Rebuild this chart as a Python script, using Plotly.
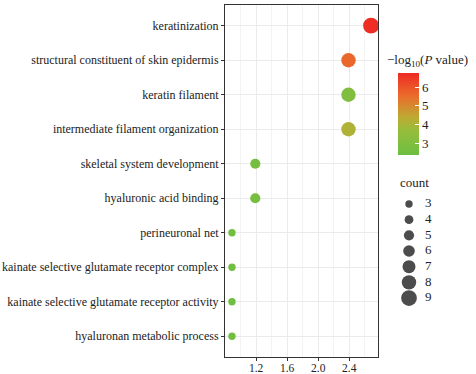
import plotly.graph_objects as go

terms = [
    "keratinization",
    "structural constituent of skin epidermis",
    "keratin filament",
    "intermediate filament organization",
    "skeletal system development",
    "hyaluronic acid binding",
    "perineuronal net",
    "kainate selective glutamate receptor complex",
    "kainate selective glutamate receptor activity",
    "hyaluronan metabolic process",
]
x_values = [2.68, 2.39, 2.39, 2.39, 1.19, 1.19, 0.89, 0.89, 0.89, 0.89]
neg_log_p = [6.7, 5.6, 3.0, 4.1, 2.7, 2.7, 2.5, 2.5, 2.5, 2.5]
counts = [9, 8, 8, 8, 5, 5, 3, 3, 3, 3]

legend_counts = [3, 4, 5, 6, 7, 8, 9]
x_ticks = [1.2, 1.6, 2.0, 2.4]
cbar_ticks = [3, 4, 5, 6]

FONT = "Liberation Serif, Times New Roman, serif"
W, H = 476, 374
ML, MR, MT, MB = 225, 4, 5, 17
PW = W - ML - MR
PH = H - MT - MB

def px_x(p):
    return (p - ML) / PW

def px_y(p):
    return (H - MB - p) / PH

def sz(c):
    return 3.2 + 1.4 * c

colorscale = [
    [0.0, "#6cbf42"],
    [0.3, "#97bd3b"],
    [0.45, "#bcac33"],
    [0.72, "#ea6c2b"],
    [1.0, "#ee2a24"],
]

fig = go.Figure()
fig.add_trace(go.Scatter(
    x=x_values, y=terms, mode="markers",
    marker=dict(
        size=[sz(c) for c in counts], opacity=1,
        color=neg_log_p, colorscale=colorscale, cmin=2.36, cmax=6.75,
        line=dict(width=0),
        colorbar=dict(
            x=px_x(398), xanchor="left", y=px_y(114), yanchor="middle",
            len=82, lenmode="pixels", thickness=21, outlinewidth=0,
            tickvals=cbar_ticks, ticks="inside", tickcolor="white", ticklen=4,
            tickfont=dict(family=FONT, size=13, color="#222"), ypad=0, xpad=0,
        ),
    ),
    showlegend=False, hoverinfo="skip",
))

# size legend
fig.add_trace(go.Scatter(
    x=[1.4] * len(legend_counts), y=legend_counts, mode="markers",
    marker=dict(size=[sz(c) for c in legend_counts], color="black", line=dict(width=0)),
    xaxis="x2", yaxis="y2", showlegend=False, hoverinfo="skip", cliponaxis=False,
))
fig.add_trace(go.Scatter(
    x=[3.0] * len(legend_counts), y=legend_counts, mode="text",
    text=[str(c) for c in legend_counts], textposition="middle right",
    textfont=dict(family=FONT, size=13, color="#222"),
    xaxis="x2", yaxis="y2", showlegend=False, hoverinfo="skip", cliponaxis=False,
))

fig.update_layout(
    width=W, height=H,
    margin=dict(l=ML, r=MR, t=MT, b=MB, autoexpand=False),
    paper_bgcolor="white", plot_bgcolor="white",
    font=dict(family=FONT, size=12, color="#222"),
    xaxis=dict(
        domain=[0, px_x(378)], range=[0.8, 2.77], tickvals=x_ticks,
        ticktext=["1.2", "1.6", "2.0", "2.4"], automargin=False,
        showgrid=True, gridcolor="#ebebeb", gridwidth=1,
        minor=dict(dtick=0.2, tick0=0.8, showgrid=True, gridcolor="#f3f3f3", gridwidth=0.6),
        ticks="outside", ticklen=3, tickcolor="#333", ticklabelstandoff=-3,
        showline=True, linecolor="#333", linewidth=1, mirror=True,
        zeroline=False, tickfont=dict(family=FONT, size=11.5, color="#222"),
    ),
    yaxis=dict(
        domain=[0, 1], categoryorder="array", categoryarray=terms[::-1],
        range=[-0.6, 9.6], automargin=False,
        showgrid=True, gridcolor="#ebebeb", gridwidth=1,
        ticks="outside", ticklen=3, tickcolor="#333",
        showline=True, linecolor="#333", linewidth=1, mirror=True,
        zeroline=False, tickfont=dict(family=FONT, size=12, color="#222"),
    ),
    xaxis2=dict(domain=[px_x(395), px_x(445)], range=[0, 5], visible=False, anchor="y2"),
    yaxis2=dict(domain=[px_y(309), px_y(193)], range=[9.7, 2.3], visible=False, anchor="x2"),
    annotations=[
        dict(
            text="count", x=px_x(398), y=px_y(183), xref="paper", yref="paper",
            xanchor="left", yanchor="middle", showarrow=False,
            font=dict(family=FONT, size=13, color="#222"),
        ),
        dict(
            text="\u2212log<sub>10</sub>(<i>P</i> value)", x=px_x(385), y=px_y(61),
            xref="paper", yref="paper", xanchor="left", yanchor="middle", showarrow=False,
            font=dict(family=FONT, size=13, color="#222"),
        ),
    ],
)

fig.write_html("out.html", post_script="document.body.style.margin='0';",
               config={"displayModeBar": False})
